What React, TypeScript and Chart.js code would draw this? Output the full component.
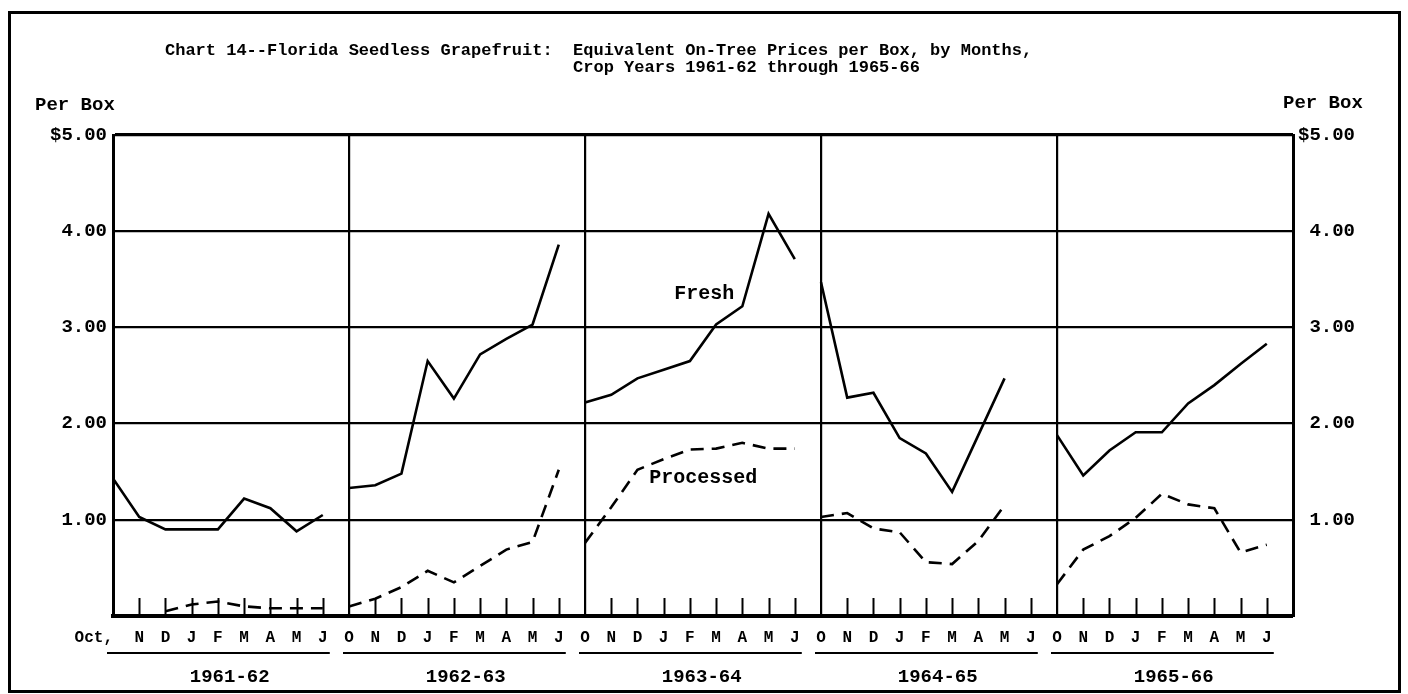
import React, { useEffect, useRef } from "react";
import { Chart, registerables } from "chart.js";

Chart.register(...registerables);

// ---- data ----
const MONTHS = ["O", "N", "D", "J", "F", "M", "A", "M", "J"];
const CROP_YEARS = ["1961-62", "1962-63", "1963-64", "1964-65", "1965-66"];
const Y_TICK_LABELS = ["", "1.00", "2.00", "3.00", "4.00", "$5.00"];

const fresh1961 = [1.43, 1.03, 0.9, 0.9, 0.9, 1.22, 1.12, 0.88, 1.05];
const fresh1962 = [1.33, 1.36, 1.48, 2.65, 2.26, 2.72, 2.88, 3.03, 3.86];
const fresh1963 = [2.22, 2.3, 2.47, 2.56, 2.65, 3.03, 3.22, 4.18, 3.71];
const fresh1964 = [3.47, 2.27, 2.32, 1.85, 1.69, 1.29, 1.88, 2.47, null];
const fresh1965 = [1.88, 1.46, 1.72, 1.91, 1.91, 2.21, 2.4, 2.62, 2.83];

const processed1961 = [null, null, 0.05, 0.12, 0.15, 0.1, 0.08, 0.08, 0.08];
const processed1962 = [0.1, 0.18, 0.3, 0.47, 0.35, 0.52, 0.69, 0.77, 1.52];
const processed1963 = [0.76, 1.13, 1.52, 1.63, 1.73, 1.74, 1.8, 1.74, 1.74];
const processed1964 = [1.03, 1.07, 0.91, 0.87, 0.56, 0.54, 0.78, 1.15, null];
const processed1965 = [0.33, 0.69, 0.83, 1.02, 1.27, 1.16, 1.12, 0.66, 0.74];

const FRESH = [fresh1961, fresh1962, fresh1963, fresh1964, fresh1965];
const PROCESSED = [processed1961, processed1962, processed1963, processed1964, processed1965];

const TITLE_1 = "Chart 14--Florida Seedless Grapefruit:  Equivalent On-Tree Prices per Box, by Months,";
const TITLE_2 = "Crop Years 1961-62 through 1965-66";

const FONT = "'Liberation Mono', 'DejaVu Sans Mono', monospace";

function toSeries(panels: (number | null)[][]) {
  const pts: { x: number; y: number | null }[] = [];
  panels.forEach((vals, p) => {
    vals.forEach((v, m) => pts.push({ x: p * 9 + m, y: v }));
    pts.push({ x: p * 9 + 8.5, y: null });
  });
  return pts;
}

const decorPlugin = {
  id: "decor",
  beforeDatasetsDraw(chart: any) {
    const { ctx, chartArea, scales } = chart;
    const xs = scales.x;
    ctx.save();
    ctx.strokeStyle = "#000";
    ctx.lineWidth = 2;
    for (let i = 1; i < 45; i++) {
      if (i % 9 === 0) continue;
      const px = Math.round(xs.getPixelForValue(i)) + 0.5;
      ctx.beginPath();
      ctx.moveTo(px, chartArea.bottom);
      ctx.lineTo(px, chartArea.bottom - 18);
      ctx.stroke();
    }
    ctx.restore();
  },
  afterDraw(chart: any) {
    const { ctx, scales } = chart;
    const xs = scales.x;
    const ys = scales.y;
    ctx.save();
    ctx.fillStyle = "#000";
    ctx.strokeStyle = "#000";

    // frame
    ctx.lineWidth = 3;
    ctx.strokeRect(9.5, 12.5, 1390, 679);

    // title
    ctx.font = `bold 17px ${FONT}`;
    ctx.textBaseline = "middle";
    ctx.textAlign = "left";
    const titleX = 165;
    ctx.fillText(TITLE_1, titleX, 51);
    const w40 = ctx.measureText(TITLE_1.slice(0, 40)).width;
    ctx.fillText(TITLE_2, titleX + w40, 68);

    // per box
    ctx.font = `bold 19px ${FONT}`;
    ctx.fillText("Per Box", 35, 105);
    ctx.fillText("Per Box", 1283, 103);

    // annotations
    ctx.font = `bold 20px ${FONT}`;
    ctx.fillText("Fresh", xs.getPixelForValue(21.4), ys.getPixelForValue(3.35));
    ctx.fillText("Processed", xs.getPixelForValue(20.45), ys.getPixelForValue(1.43));

    // year labels + underlines
    ctx.font = `bold 19px ${FONT}`;
    ctx.textAlign = "center";
    ctx.lineWidth = 2;
    CROP_YEARS.forEach((yr, p) => {
      const x0 = xs.getPixelForValue(p * 9) - 6;
      const x1 = xs.getPixelForValue(p * 9 + 8) + 7;
      ctx.beginPath();
      ctx.moveTo(x0, 653);
      ctx.lineTo(x1, 653);
      ctx.stroke();
      ctx.fillText(yr, xs.getPixelForValue(p * 9 + 4.45), 677);
    });
    ctx.restore();
  },
};

export default function App() {
  const ref = useRef<HTMLCanvasElement | null>(null);
  useEffect(() => {
    if (!ref.current) return;
    const chart = new Chart(ref.current, {
      type: "line",
      data: {
        datasets: [
          {
            label: "Fresh",
            data: toSeries(FRESH) as any,
            borderColor: "#000",
            borderWidth: 2.6,
            pointRadius: 0,
            tension: 0,
            spanGaps: false,
            yAxisID: "y",
          },
          {
            label: "Processed",
            data: toSeries(PROCESSED) as any,
            borderColor: "#000",
            borderWidth: 2.6,
            borderDash: [13, 8],
            pointRadius: 0,
            tension: 0,
            spanGaps: false,
            yAxisID: "y",
          },
        ],
      },
      options: {
        responsive: false,
        animation: false,
        layout: { padding: { top: 135, right: 53, left: 0, bottom: 0 } },
        plugins: { legend: { display: false }, tooltip: { enabled: false }, title: { display: false } },
        scales: {
          x: {
            type: "linear",
            min: 0,
            max: 45,
            afterBuildTicks: (scale: any) => {
              scale.ticks = Array.from({ length: 46 }, (_, i) => ({ value: i }));
            },
            afterFit: (scale: any) => {
              scale.height = 78;
            },
            ticks: {
              autoSkip: false,
              maxRotation: 0,
              padding: 12,
              color: "#000",
              font: { family: FONT, size: 16, weight: "bold" },
              callback: (v: any) => {
                const n = Number(v);
                if (n >= 45) return "";
                if (n === 0) return "Oct,    ";
                return MONTHS[n % 9];
              },
            },
            grid: {
              drawTicks: false,
              color: "#000",
              lineWidth: (c: any) => {
                const v = c.tick ? c.tick.value : -1;
                return v > 0 && v < 45 && v % 9 === 0 ? 2.2 : 0;
              },
            },
            border: { display: true, color: "#000", width: 4 },
          },
          y: {
            position: "left",
            min: 0,
            max: 5,
            afterFit: (scale: any) => {
              scale.width = 113;
            },
            ticks: {
              stepSize: 1,
              padding: 6,
              color: "#000",
              font: { family: FONT, size: 19, weight: "bold" },
              callback: (v: any) => Y_TICK_LABELS[Math.round(Number(v))] ?? "",
            },
            grid: {
              drawTicks: false,
              color: "#000",
              lineWidth: (c: any) => {
                const v = c.tick ? c.tick.value : -1;
                if (v === 0) return 0;
                return v === 5 ? 3.2 : 2.2;
              },
            },
            border: { display: true, color: "#000", width: 3 },
          },
          y2: {
            position: "right",
            min: 0,
            max: 5,
            afterFit: (scale: any) => {
              scale.width = 62;
            },
            ticks: {
              stepSize: 1,
              padding: 6,
              crossAlign: "far",
              color: "#000",
              font: { family: FONT, size: 19, weight: "bold" },
              callback: (v: any) => Y_TICK_LABELS[Math.round(Number(v))] ?? "",
            },
            grid: { display: false, drawTicks: false },
            border: { display: true, color: "#000", width: 3 },
          },
        },
      } as any,
      plugins: [decorPlugin],
    });
    return () => chart.destroy();
  }, []);

  return (
    <div style={{ position: "fixed", left: 0, top: 0, width: 1408, height: 694, background: "#fff" }}>
      <canvas ref={ref} width={1408} height={694} style={{ display: "block", width: 1408, height: 694 }} />
    </div>
  );
}
